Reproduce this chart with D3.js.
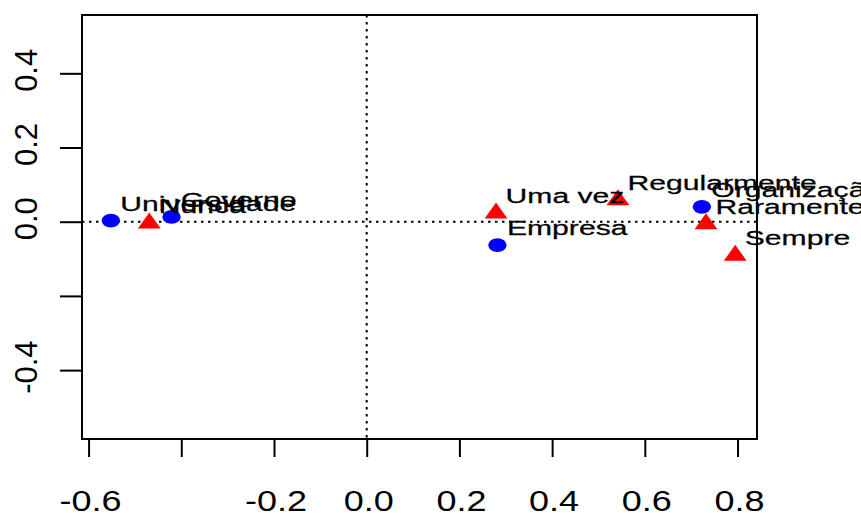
<!DOCTYPE html>
<html>
<head>
<meta charset="utf-8">
<script src="https://cdn.jsdelivr.net/npm/d3@7"></script>
<style>
  html, body { margin: 0; padding: 0; background: #fff; }
  svg { display: block; font-family: "Liberation Sans", Arial, sans-serif; }
</style>
</head>
<body>
<script>
// ---- data ----
const rowNames = ["Universidade", "Governo", "Empresa", "Organização"];
const rowX = [-0.552, -0.421, 0.282, 0.723];
const rowY = [0.003, 0.013, -0.063, 0.040];

const colNames = ["Nunca", "Uma vez", "Regularmente", "Raramente", "Sempre"];
const colX = [-0.469, 0.279, 0.542, 0.732, 0.795];
const colY = [-0.004, 0.023, 0.059, -0.006, -0.091];

const xTicks = [-0.6, -0.4, -0.2, 0.0, 0.2, 0.4, 0.6, 0.8];
const xTickLabels = ["-0.6", "", "-0.2", "0.0", "0.2", "0.4", "0.6", "0.8"];
const yTicks = [-0.4, -0.2, 0.0, 0.2, 0.4];
const yTickLabels = ["-0.4", "", "0.0", "0.2", "0.4"];

// ---- layout ----
const W = 861, H = 513;
const box = { left: 82, right: 757, top: 15, bottom: 439 };

const x = d3.scaleLinear().domain([-0.6142, 0.842]).range([box.left, box.right]);
const y = d3.scaleLinear().domain([-0.5857, 0.5572]).range([box.bottom, box.top]);

const svg = d3.select("body").append("svg").attr("width", W).attr("height", H);

// reference dotted lines at 0
svg.append("line")
  .attr("x1", box.left).attr("x2", box.right)
  .attr("y1", y(0)).attr("y2", y(0))
  .attr("stroke", "#000").attr("stroke-width", 2).attr("stroke-dasharray", "2.5,4.5");
svg.append("line")
  .attr("x1", x(0)).attr("x2", x(0))
  .attr("y1", box.top).attr("y2", box.bottom)
  .attr("stroke", "#000").attr("stroke-width", 2).attr("stroke-dasharray", "2.5,4.5");

// axes (ticks)
const xAxis = d3.axisBottom(x).tickValues(xTicks).tickSize(18).tickFormat("");
const gx = svg.append("g").attr("transform", `translate(0,${box.bottom})`).call(xAxis);
gx.select(".domain").remove();
gx.selectAll(".tick line").attr("stroke", "#000").attr("stroke-width", 2);

const yAxis = d3.axisLeft(y).tickValues(yTicks).tickSize(22).tickFormat("");
const gy = svg.append("g").attr("transform", `translate(${box.left},0)`).call(yAxis);
gy.select(".domain").remove();
gy.selectAll(".tick line").attr("stroke", "#000").attr("stroke-width", 2);

// tick labels
svg.append("g").selectAll("text")
  .data(xTicks)
  .join("text")
  .attr("transform", d => `translate(${x(d) + 2},511) scale(1.2,1)`)
  .attr("text-anchor", "middle")
  .attr("font-size", 30)
  .attr("fill", "#000")
  .text((d, i) => xTickLabels[i]);

svg.append("g").selectAll("text")
  .data(yTicks)
  .join("text")
  .attr("transform", d => `translate(36.5,${y(d) - 3}) rotate(-90)`)
  .attr("text-anchor", "middle")
  .attr("font-size", 31)
  .attr("fill", "#000")
  .text((d, i) => yTickLabels[i]);

// box
svg.append("rect")
  .attr("x", box.left).attr("y", box.top)
  .attr("width", box.right - box.left).attr("height", box.bottom - box.top)
  .attr("fill", "none").attr("stroke", "#000").attr("stroke-width", 2);

// points
const rows = rowNames.map((n, i) => ({ name: n, x: rowX[i], y: rowY[i] }));
const cols = colNames.map((n, i) => ({ name: n, x: colX[i], y: colY[i] }));

svg.append("g").selectAll("ellipse")
  .data(rows)
  .join("ellipse")
  .attr("cx", d => x(d.x)).attr("cy", d => y(d.y))
  .attr("rx", 9.2).attr("ry", 6.8)
  .attr("fill", "#0000FF");

const r = 10.7, hw = 11.4;
const tri = `M0,${-r}L${hw},${r / 2}L${-hw},${r / 2}Z`;
svg.append("g").selectAll("path")
  .data(cols)
  .join("path")
  .attr("transform", d => `translate(${x(d.x)},${y(d.y)})`)
  .attr("d", tri)
  .attr("fill", "#FF0000");

// labels
const labels = rows.concat(cols);
svg.append("g").selectAll("text")
  .data(labels)
  .join("text")
  .attr("transform", d => `translate(${x(d.x) + 9.5},${y(d.y) - 10}) scale(1.47,1)`)
  .attr("font-size", 20.5)
  .attr("fill", "#000")
  .attr("stroke", "#000").attr("stroke-width", 0.25)
  .text(d => d.name);
</script>
</body>
</html>
